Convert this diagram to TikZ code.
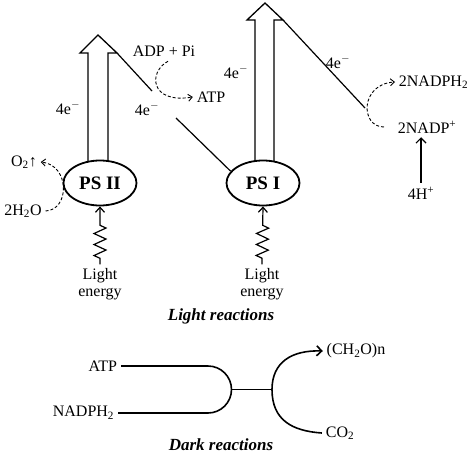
\documentclass[tikz,border=0pt]{standalone}
\usepackage{fontspec}
\setmainfont{Liberation Serif}
\usetikzlibrary{arrows.meta,calc,decorations.pathmorphing,shapes.geometric}

\begin{document}
\begin{tikzpicture}[x=1pt,y=-1pt,font=\fontsize{16}{17}\selectfont,line width=1.2pt,
  ps/.style={draw,fill=white,ellipse,line width=1.8pt,minimum width=73pt,minimum height=45pt,inner sep=0pt,font=\fontsize{19}{20}\selectfont\bfseries},
  hollow/.style={line width=1.3pt,line join=miter},
  flow/.style={densely dashed,line width=0.9pt,-{Straight Barb[length=4pt,width=7pt]}},
  wave/.style={decorate,decoration={zigzag,segment length=11pt,amplitude=6pt,pre length=6pt,post length=14pt},-{Straight Barb[length=5pt,width=9pt]}},
  title/.style={font=\fontsize{17}{18}\selectfont\bfseries\itshape}]
\useasboundingbox (0,0) rectangle (474,455);

% hollow arrows
\draw[hollow] (88,170) -- (88,53) -- (80,53) -- (98,35) -- (117,53) -- (108,53) -- (108,170);
\draw[hollow] (255,170) -- (255,20) -- (247,20) -- (265,3) -- (283,20) -- (274,20) -- (274,170);

\node[ps] (psii) at (100,183) {PS II};
\node[ps] (psi) at (263,183) {PS I};

% Z scheme
\coordinate (z1) at (117,53);
\coordinate (z2) at (152,91);
\coordinate (z3) at (176,118);
\coordinate (z4) at (283,20);
\coordinate (z5) at (365,108);
\draw (z1) -- (z2);
\draw (z3) -- (psi.160);
\draw (z4) -- (z5);

\node (e1) at (68,108) {4e$^-$};
\node (e2) at (147,109) {4e$^-$};
\node (e3) at (236,72) {4e$^-$};
\node (e4) at (338,62) {4e$^-$};
\node (adp) at (164,51) {ADP + Pi};
\node (atp) at (211,97) {ATP};
\node[anchor=west] (nadph) at (395,82) {2NADPH\textsubscript{2}};
\node[anchor=west] (nadp) at (394,127) {2NADP\textsuperscript{+}};
\node (hplus) at (421,193) {4H\textsuperscript{+}};
\node (o2) at (24,162) {O\textsubscript{2}↑};
\node (water) at (23,211) {2H\textsubscript{2}O};
\node[align=center] (light2) at (100,284) {Light\\energy};
\node[align=center] (light1) at (262,284) {Light\\energy};
\node[title] (lr) at (221,316) {Light reactions};

\draw[flow] ($(adp.south)+(4,1)$) .. controls (148,72) and (150,104) .. (atp.west);
\draw[flow,shorten <=10pt] (nadp.west) .. controls (360,127) and (360,84) .. (nadph.west);
\draw[flow] (water.east) .. controls (70,210) and (70,165) .. (o2.east);
\draw[-{Straight Barb[length=5pt,width=10pt]}] (hplus.north) -- (hplus.north |- nadp.south);
\draw[wave] (light2.north) -- (psii.south);
\draw[wave] (light1.north) -- (psi.south);

% dark reactions
\node[anchor=east] (atpd) at (121,366) {ATP};
\node[anchor=east] (nadphd) at (118,413) {NADPH\textsubscript{2}};
\coordinate (fork) at (231.5,389.5);
\coordinate (split) at (272,389.5);
\draw[line width=1.6pt] (atpd.east) -- (208,366) arc[start angle=-90,end angle=90,radius=23.5] -- (nadphd.east);
\draw[line width=1.6pt] (fork) -- (split);
\node (ch2o) at (356,351) {(CH\textsubscript{2}O)n};
\node (co2) at (340,433) {CO\textsubscript{2}};
\draw[line width=1.6pt,-{Straight Barb[length=5pt,width=10pt]}] (split) .. controls (272,362) and (292,350) .. (ch2o.west);
\draw[line width=1.6pt] (split) .. controls (272,420) and (292,431) .. (co2.west);
\node[title] (dr) at (221,445) {Dark reactions};
\end{tikzpicture}
\end{document}
